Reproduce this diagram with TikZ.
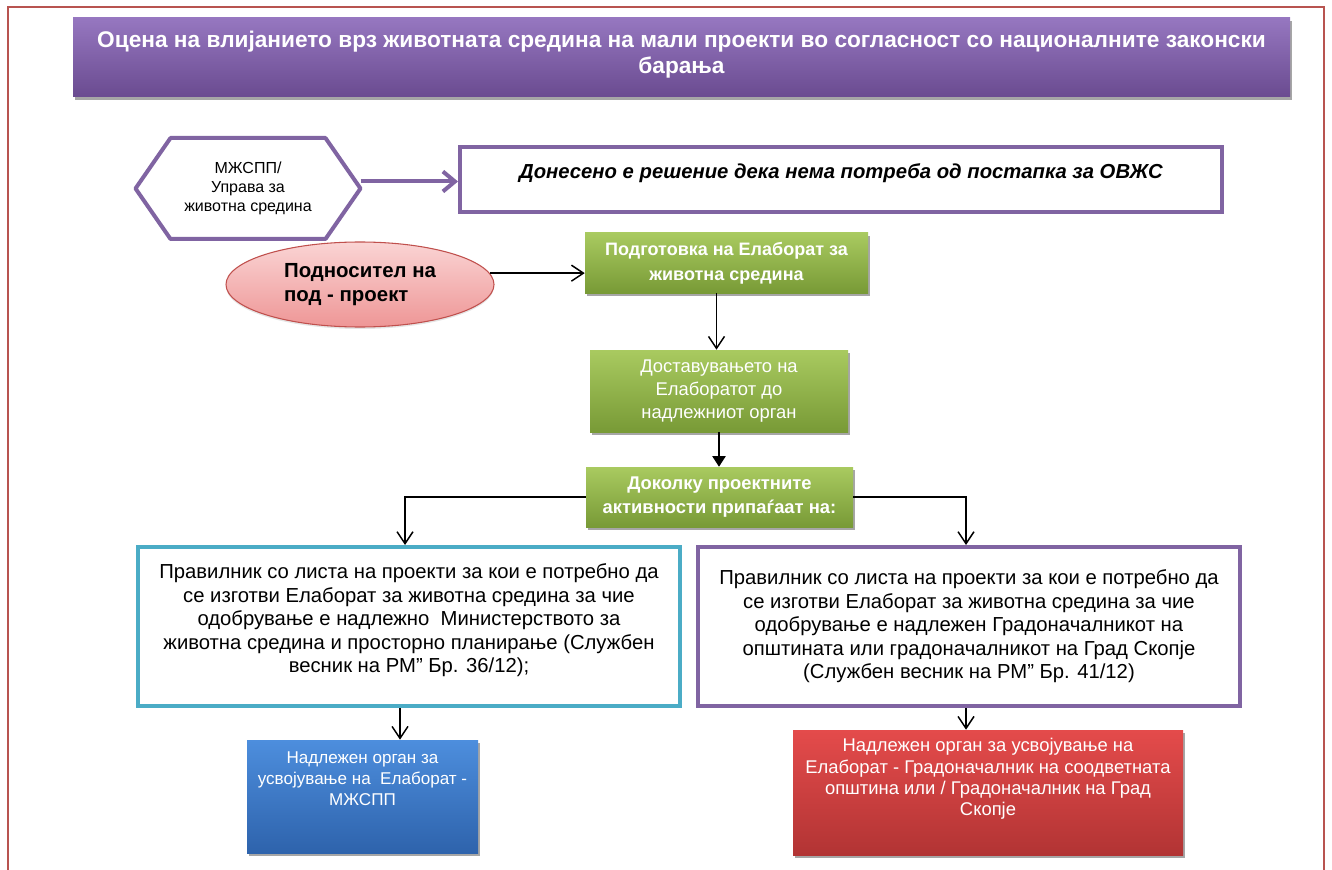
\documentclass[tikz,border=0pt]{standalone}
\usepackage{fontspec}
\setmainfont{Liberation Sans}
\usetikzlibrary{positioning,shapes.geometric,arrows.meta,shadows}

\definecolor{framered}{HTML}{B85450}
\definecolor{titletop}{HTML}{9677C0}
\definecolor{titlebot}{HTML}{6A4B90}
\definecolor{linepurple}{HTML}{8064A2}
\definecolor{lineteal}{HTML}{4BACC6}
\definecolor{pinktop}{HTML}{FAD4D4}
\definecolor{pinkbot}{HTML}{EE9696}
\definecolor{pinkline}{HTML}{C0504D}
\definecolor{greentop}{HTML}{A9CA60}
\definecolor{greenbot}{HTML}{789A36}
\definecolor{bluetop}{HTML}{4D8EDD}
\definecolor{bluebot}{HTML}{2E63AC}
\definecolor{redtop}{HTML}{E44B4B}
\definecolor{redbot}{HTML}{B23434}

\newcommand{\pxu}{0.75pt}

\begin{document}
\begin{tikzpicture}[x=0.75pt,y=-0.75pt,
    boxshadow/.style={drop shadow={shadow xshift=1.5pt,shadow yshift=-2.5pt,opacity=0.35,fill=black}},
    titlebox/.style={rectangle,top color=titletop,bottom color=titlebot,boxshadow,
      minimum width=1217*\pxu,minimum height=79*\pxu,align=center,text=white,
      font=\bfseries\fontsize{17}{19.5}\selectfont},
    hexbox/.style={rectangle,inner sep=0pt,outer sep=1.5pt,
      minimum width=221*\pxu,minimum height=97*\pxu,align=center,
      font=\fontsize{12}{14}\selectfont},
    hexline/.style={draw=linepurple,line width=3pt,fill=white,line join=round},
    outbox/.style={rectangle,draw=linepurple,line width=3pt,fill=white,align=center},
    pinkoval/.style={ellipse,draw=pinkline,line width=0.8pt,top color=pinktop,bottom color=pinkbot,
      drop shadow={shadow xshift=0pt,shadow yshift=-1.5pt,opacity=0.1,fill=black},
      minimum width=268*\pxu,minimum height=85*\pxu,inner sep=0pt,align=left,
      font=\bfseries\fontsize{15.3}{18.5}\selectfont},
    greenbox/.style={rectangle,top color=greentop,bottom color=greenbot,boxshadow,
      align=center,text=white,inner sep=0pt,font=\fontsize{13.8}{17}\selectfont},
    colbox/.style={rectangle,boxshadow,align=center,text=white,inner sep=0pt},
    blackarrow/.style={line width=1.1pt,-{Straight Barb[length=9pt,width=12pt]}},
    purplearrow/.style={draw=linepurple,line width=3pt,-{Straight Barb[length=9pt,width=15pt]}}
  ]
  \useasboundingbox (0,0) rectangle (1332,870);

  % Frame of the page
  \draw[framered,line width=1.5*\pxu] (8,870) -- (8,7) -- (1324,7) -- (1324,870);

  % Title
  \node[titlebox] (title) at (681.5,57.5)
    {Оцена на влијанието врз животната средина на мали проекти во согласност со националните законски\\барања\\[-12pt]\mbox{}};

  % Ministry (hexagon drawn round its node) and decision
  \node[hexbox] (mzspp) at (248,188.5) {};
  \draw[hexline] (mzspp.west) -- ([xshift=35*\pxu]mzspp.north west) -- ([xshift=-35*\pxu]mzspp.north east)
    -- (mzspp.east) -- ([xshift=-35*\pxu]mzspp.south east) -- ([xshift=35*\pxu]mzspp.south west) -- cycle;
  \node[hexbox] at (mzspp) {МЖСПП/\\Управа за\\животна средина};
  \node[outbox,minimum width=762*\pxu,minimum height=65*\pxu] (nema) at (841,179.5)
    {\bfseries\itshape\fontsize{15.2}{20}\selectfont Донесено е решение дека нема потреба од постапка за ОВЖС\\\mbox{}};

  % Applicant
  \node[pinkoval] (podn) at (360,284.5) {Подносител на\\под - проект};

  % Green steps
  \node[greenbox,font=\bfseries\fontsize{13.5}{18.5}\selectfont,minimum width=283*\pxu,minimum height=60*\pxu] (podg) at (726.5,263)
    {Подготовка на Елаборат за\\животна средина};
  \node[greenbox,minimum width=258*\pxu,minimum height=82*\pxu] (dost) at (719,391)
    {Доставувањето на\\Елаборатот до\\надлежниот орган};
  \node[greenbox,font=\bfseries\fontsize{13.8}{18}\selectfont,minimum width=267*\pxu,minimum height=60*\pxu] (dok) at (719.5,497)
    {Доколку проектните\\активности припаѓаат на:};

  % The two regulations
  \node[outbox,draw=lineteal,minimum width=542*\pxu,minimum height=159*\pxu,font=\fontsize{15.2}{17.6}\selectfont] (leftbox) at (409,626.5)
    {Правилник со листа на проекти за кои е потребно да\\се изготви Елаборат за животна средина за чие\\одобрување е надлежно~ Министерството за\\животна средина и просторно планирање (Службен\\весник на РМ" Бр. 36/12);\\[-5pt]\mbox{}};
  \node[outbox,minimum width=542*\pxu,minimum height=159*\pxu,font=\fontsize{15.2}{17.6}\selectfont] (rightbox) at (969,626.5)
    {Правилник со листа на проекти за кои е потребно да\\се изготви Елаборат за животна средина за чие\\одобрување е надлежен Градоначалникот на\\општината или градоначалникот на Град Скопје\\(Службен весник на РМ" Бр. 41/12)};

  % Competent bodies
  \node[colbox,top color=bluetop,bottom color=bluebot,minimum width=231*\pxu,minimum height=113*\pxu,font=\fontsize{12.8}{15.75}\selectfont] (blue) at (362.5,796.5)
    {Надлежен орган за\\усвојување на~ Елаборат -\\МЖСПП\\[6pt]\strut};
  \node[colbox,top color=redtop,bottom color=redbot,minimum width=390*\pxu,minimum height=125*\pxu,font=\fontsize{13.8}{16}\selectfont] (red) at (988,792.5)
    {Надлежен орган за усвојување на\\Елаборат - Градоначалник на соодветната\\општина или / Градоначалник на Град\\Скопје\\[2pt]\strut};

  % Connectors
  \draw[purplearrow] ([yshift=7*\pxu]mzspp.east) -- ([yshift=7*\pxu]mzspp.east -| nema.west);
  \draw[blackarrow] (podn.5) -- (podn.5 -| podg.west);
  \draw[blackarrow] ([xshift=-10*\pxu]podg.south) -- ([xshift=-10*\pxu]podg.south |- dost.north);
  \draw[line width=1.1pt,-{Triangle[length=8pt,width=10pt]}] (dost.south) -- (dost.south |- dok.north);
  \draw[blackarrow] (dok.west) -| ([xshift=-4*\pxu]leftbox.north);
  \draw[blackarrow] (dok.east) -| ([xshift=-3*\pxu]rightbox.north);
  \draw[blackarrow] ([xshift=-9*\pxu]leftbox.south) -- ([xshift=-9*\pxu]leftbox.south |- blue.north);
  \draw[blackarrow] ([xshift=-22*\pxu]red.north |- rightbox.south) -- ([xshift=-22*\pxu]red.north);
\end{tikzpicture}
\end{document}
